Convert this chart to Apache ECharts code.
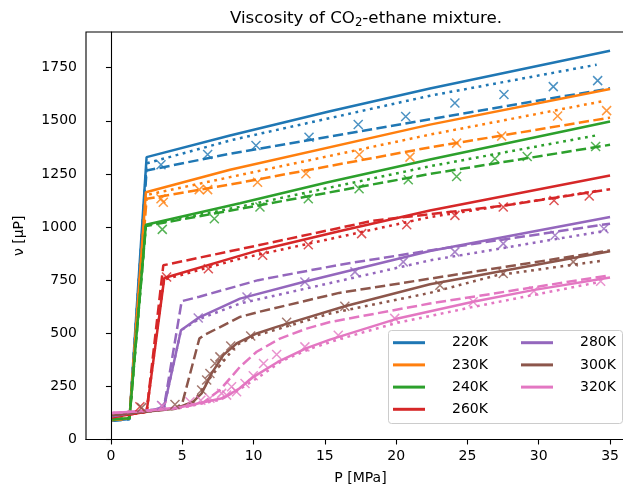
<!DOCTYPE html>
<html>
<head>
<meta charset="utf-8">
<script src="https://cdn.jsdelivr.net/npm/echarts@6/dist/echarts.min.js"></script>
<style>html,body{margin:0;padding:0;background:#fff;}#c{width:623px;height:489px;}</style>
</head>
<body>
<div id="c"></div>
<script>
// ---- data (P in MPa, viscosity in microPoise) ----
const temps = ['220K', '230K', '240K', '260K', '280K', '300K', '320K'];
const colors = ['#1f77b4', '#ff7f0e', '#2ca02c', '#d62728', '#9467bd', '#8c564b', '#e377c2'];
const xTicks = [0, 5, 10, 15, 20, 25, 30, 35];
const yTicks = [0, 250, 500, 750, 1000, 1250, 1500, 1750];

// solid model curves
const s220 = [[0.1,88],[1.3,97],[2.5,1329],[8.35,1431],[15.36,1545],[22.37,1652],[35,1830]];
const s230 = [[0.1,92],[1.3,100],[2.45,1164],[8.35,1270],[22.37,1482],[35,1650]];
const s240 = [[0.1,95],[1.3,100],[2.45,1011],[9.05,1112],[15.13,1210],[22.37,1318],[35,1497]];
const s260 = [[0.1,105],[2.5,130],[3.74,760],[10.33,890],[16,980],[22.37,1078],[35,1243]];
const s280 = [[0.1,110],[3.71,148],[4.91,514],[6.12,572],[9.05,663],[13.49,741],[22.37,887],[35,1047]];
const s300 = [[0.1,115],[4.5,145],[5.77,178],[6.36,217],[7.06,311],[7.88,397],[8.81,452],[10.22,499],[11.62,530],[16.4,627],[22.37,731],[35,886]];
const s320 = [[0.1,125],[2.5,135],[4.84,152],[6.5,175],[7.88,195],[9,240],[10,295],[11.7,365],[13.72,430],[15.36,470],[20.03,568],[25.4,648],[29.6,703],[35,762]];

// dashed model curves
const d220 = [[0.1,88],[1.3,97],[2.5,1266],[8.35,1345],[22.37,1507],[35,1653]];
const d230 = [[0.1,92],[1.3,100],[2.5,1133],[8.35,1200],[22.37,1375],[35,1515]];
const d240 = [[0.1,95],[1.3,100],[2.45,1005],[9,1085],[22.37,1250],[35,1387]];
const d260 = [[0.1,105],[2.5,130],[3.67,820],[10.33,914],[18.4,1030],[27.5,1100],[35,1178]];
const d280 = [[0.1,110],[3.71,148],[4.96,651],[6.2,672],[10.33,750],[16,822],[22.37,890],[35,1016]];
const d300 = [[0.1,115],[4.5,145],[5.0,170],[6.2,475],[6.5,490],[9.05,577],[10.33,600],[16,690],[22.37,757],[35,890]];
const d320 = [[0.1,125],[2.5,135],[5,150],[6.5,175],[7.64,233],[9.05,342],[10.22,413],[11.85,475],[13.72,522],[15.36,553],[22.37,640],[35,773]];

// dotted model curves
const o220 = [[0.1,88],[1.3,97],[2.5,1300],[8.56,1411],[22.37,1618],[34.06,1764]];
const o230 = [[0.1,92],[1.3,100],[2.45,1150],[8.35,1235],[22.37,1435],[34.7,1595]];
const o240 = [[0.1,95],[1.3,100],[2.45,1008],[9,1095],[22.37,1286],[34,1431]];
const o260 = [[0.1,105],[2.5,130],[3.71,752],[9.05,851],[22.37,1047],[34.3,1172]];
const o280 = [[0.1,110],[3.71,148],[4.91,514],[6.12,565],[9.05,640],[22.37,843],[34.8,984]];
const o300 = [[0.1,115],[4.5,145],[5.77,175],[7.06,300],[8.81,445],[10.22,490],[15.36,593],[22.37,690],[27.05,773],[34.3,840]];
const o320 = [[0.1,125],[2.5,135],[5,150],[7.5,185],[9,235],[10.5,300],[12,370],[14,428],[16,472],[20,548],[25.4,624],[34.3,742]];

// experimental points (crosses)
const x220 = [[3.51,1293],[6.78,1341],[10.17,1384],[13.89,1423],[17.34,1483],[20.67,1520],[24.12,1584],[27.56,1624],[31.02,1661],[34.13,1689]];
const x230 = [[3.51,1133],[3.67,1117],[6.19,1176],[6.78,1176],[10.28,1211],[13.67,1251],[17.41,1340],[20.97,1329],[24.24,1395],[27.4,1428],[31.32,1523],[34.76,1548]];
const x240 = [[3.6,989],[7.25,1039],[10.45,1094],[13.84,1133],[17.4,1180],[20.85,1223],[24.24,1238],[26.93,1321],[29.19,1332],[33.99,1379]];
const x260 = [[2.03,154],[3.9,765],[6.83,804],[10.64,867],[13.84,917],[17.58,969],[20.74,1011],[24.12,1055],[27.51,1094],[31.07,1125],[33.54,1146]];
const x280 = [[3.55,160],[6.12,572],[9.54,671],[13.6,741],[17.11,789],[20.5,836],[24.12,883],[27.51,922],[31.14,961],[34.57,992]];
const x300 = [[2.15,150],[4.49,165],[6.36,233],[6.71,280],[6.94,311],[7.29,358],[7.64,389],[8.4,440],[9.8,487],[12.32,552],[16.4,627],[23.07,726],[27.51,781],[32.42,836]];
const x320 = [[3.6,158],[5.54,178],[6.3,185],[6.94,194],[7.76,217],[8.11,209],[8.46,248],[8.81,225],[9.4,264],[9.98,300],[10.7,358],[11.62,400],[13.6,436],[15.94,491],[19.9,570],[25.4,648],[29.66,699],[34.34,745]];

const solids = [s220, s230, s240, s260, s280, s300, s320];
const dashes = [d220, d230, d240, d260, d280, d300, d320];
const dots = [o220, o230, o240, o260, o280, o300, o320];
const crosses = [x220, x230, x240, x260, x280, x300, x320];

// ---- chart ----
const FONT = 'DejaVu Sans';
const LW = 2.5;
const series = [];
temps.forEach((t, i) => {
  const c = colors[i];
  series.push({name: t, type: 'line', data: solids[i], symbol: 'none', silent: true,
    lineStyle: {color: c, width: LW}, itemStyle: {color: c}, z: 2});
  series.push({name: t + ' b', type: 'line', data: dashes[i], symbol: 'none', silent: true,
    lineStyle: {color: c, width: LW, type: [10.3, 4.4]}, itemStyle: {color: c}, z: 2});
  series.push({name: t + ' c', type: 'line', data: dots[i], symbol: 'none', silent: true,
    lineStyle: {color: c, width: LW, type: [2.8, 4.6]}, itemStyle: {color: c}, z: 2});
  series.push({name: t + ' exp', type: 'scatter', data: crosses[i], silent: true,
    symbol: 'path://M0,0L10,10M10,0L0,10', symbolSize: 9,
    itemStyle: {color: 'none', borderColor: c, borderWidth: 1.5}, z: 2});
});

const legendCommon = {
  orient: 'vertical', icon: 'rect', itemWidth: 32, itemHeight: 3, itemGap: 8.2,
  selectedMode: false, top: 335.7, padding: 0,
  textStyle: {fontFamily: FONT, fontSize: 14, color: '#000', lineHeight: 14, padding: [0, 0, 0, 22]}
};

const chart = echarts.init(document.getElementById('c'), null, {renderer: 'canvas'});
chart.setOption({
  animation: false,
  backgroundColor: '#fff',
  title: {
    text: 'Viscosity of CO{sub|2}-ethane mixture.',
    left: 361, textAlign: 'center', top: 4,
    textStyle: {fontFamily: FONT, fontSize: 16.7, fontWeight: 'normal', color: '#000', lineHeight: 20,
      rich: {sub: {fontFamily: FONT, fontSize: 11.7, color: '#000', verticalAlign: 'bottom', lineHeight: 20}}}
  },
  grid: {left: 86, width: 549, top: 32, bottom: 49.5, show: true, borderColor: '#000', borderWidth: 1.1,
    backgroundColor: 'transparent', containLabel: false, outerBoundsMode: 'none'},
  xAxis: {
    type: 'value', min: -1.75, max: 36.75,
    name: 'P [MPa]', nameLocation: 'middle', nameGap: 32,
    nameTextStyle: {fontFamily: FONT, fontSize: 14, color: '#000'},
    axisLine: {show: true, lineStyle: {color: '#000', width: 1.1}},
    axisTick: {show: true, length: 5, lineStyle: {color: '#000', width: 1.1}, customValues: xTicks},
    axisLabel: {fontFamily: FONT, fontSize: 14, color: '#000', margin: 10, customValues: xTicks,
      formatter: v => String(v)},
    splitLine: {show: false}
  },
  yAxis: {
    type: 'value', min: 0, max: 1918,
    name: 'ν [μP]', nameLocation: 'middle', nameGap: 60, nameRotate: 90,
    nameTextStyle: {fontFamily: FONT, fontSize: 14, color: '#000'},
    axisLine: {show: true, lineStyle: {color: '#000', width: 1.1}},
    axisTick: {show: true, length: 5, lineStyle: {color: '#000', width: 1.1}, customValues: yTicks},
    axisLabel: {fontFamily: FONT, fontSize: 14, color: '#000', margin: 9, customValues: yTicks,
      formatter: v => String(v)},
    splitLine: {show: false}
  },
  legend: [
    Object.assign({}, legendCommon, {left: 393, data: temps.slice(0, 4)}),
    Object.assign({}, legendCommon, {left: 521, data: temps.slice(4)})
  ],
  graphic: [{
    type: 'rect', z: 3,
    shape: {x: 388.5, y: 330.5, width: 234, height: 93, r: 3},
    style: {fill: 'rgba(255,255,255,0.8)', stroke: '#cccccc', lineWidth: 1}
  }],
  series: series
});
</script>
</body>
</html>
